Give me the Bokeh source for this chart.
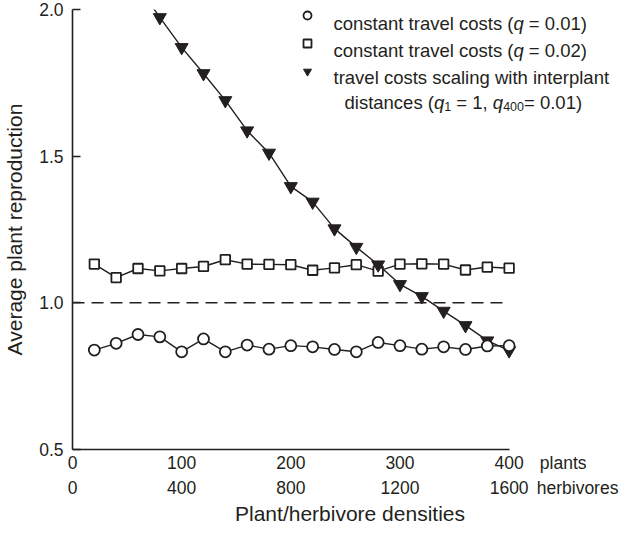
from bokeh.plotting import figure
from bokeh.models import (ColumnDataSource, Range1d, FixedTicker, LinearAxis, Legend,
                          LegendItem, Label, PrintfTickFormatter)
from bokeh.embed import file_html
from bokeh.resources import INLINE

# ---------------- data ----------------
x_plants = [20, 40, 60, 80, 100, 120, 140, 160, 180, 200,
            220, 240, 260, 280, 300, 320, 340, 360, 380, 400]
repro_q001 = [0.839, 0.862, 0.892, 0.884, 0.833, 0.877, 0.833, 0.856, 0.842, 0.854,
              0.850, 0.841, 0.833, 0.865, 0.854, 0.842, 0.850, 0.841, 0.853, 0.854]
repro_q002 = [1.132, 1.086, 1.117, 1.109, 1.117, 1.124, 1.147, 1.132, 1.131, 1.130,
              1.111, 1.119, 1.130, 1.108, 1.132, 1.133, 1.132, 1.112, 1.122, 1.118]
x_scaling = [60, 80, 100, 120, 140, 160, 180, 200, 220, 240,
             260, 280, 300, 320, 340, 360, 380, 400]
repro_scaling = [2.08, 1.973, 1.871, 1.782, 1.690, 1.587, 1.511, 1.397, 1.344, 1.253,
                 1.190, 1.130, 1.063, 1.022, 0.972, 0.923, 0.871, 0.837]
plant_ticks = [0, 100, 200, 300, 400]
herbivore_ticks = [0, 400, 800, 1200, 1600]
y_ticks = [0.5, 1.0, 1.5, 2.0]
reference_level = 1.0

FONT = "Liberation Sans, Arial, Helvetica, sans-serif"
TICK_FS = 17.5
LEG_FS = 18.5
TITLE_FS = 21
INK = "#231f20"

# Liberation Sans advance widths (per 1000 em) for laying out mixed-style text runs
W = {' ': 278, '(': 333, ')': 333, '=': 584, '.': 278, ',': 278,
     'a': 556, 'b': 556, 'c': 500, 'd': 556, 'e': 556, 'g': 556, 'h': 556, 'i': 222,
     'l': 222, 'n': 556, 'o': 556, 'p': 556, 'q': 556, 'r': 333, 's': 500, 't': 278,
     'v': 500, 'w': 722}
for d in "0123456789":
    W[d] = 556


def text_width(text, size):
    return sum(W.get(c, 556) for c in text) / 1000 * size


# ---------------- layout (page px; the page has an 8px margin) ----------------
MARGIN = 8
FIG_W, FIG_H = 627, 527
FRAME_LEFT, FRAME_TOP, FRAME_BOTTOM = 69, 9, 450          # figure px
X_END_PAGE = 516                                          # page px of the last density tick
px_per_unit = (X_END_PAGE - MARGIN - FRAME_LEFT) / plant_ticks[-1]
x_end = (FIG_W - FRAME_LEFT) / px_per_unit


def page_to_data_x(px):
    return round((px - MARGIN - FRAME_LEFT) / px_per_unit, 1)


plants_pos = page_to_data_x(547 + text_width("plants", TICK_FS) / 2)
herbivores_pos = page_to_data_x(544 + text_width("herbivores", TICK_FS) / 2)

p = figure(width=FIG_W, height=FIG_H, output_backend="svg", toolbar_location=None,
           x_range=Range1d(0, x_end), y_range=Range1d(y_ticks[0], y_ticks[-1]),
           min_border_left=FRAME_LEFT, min_border_right=0, min_border_top=FRAME_TOP,
           min_border_bottom=FIG_H - FRAME_BOTTOM)
p.xgrid.grid_line_color = None
p.ygrid.grid_line_color = None
p.outline_line_color = None

ya = p.yaxis[0]
spine = p.xaxis[0]
row_plants = LinearAxis(ticker=FixedTicker(ticks=plant_ticks + [plants_pos]),
                        major_label_overrides={plants_pos: "plants"})
row_herb_labels = {pt: str(h) for pt, h in zip(plant_ticks, herbivore_ticks)}
row_herb_labels[herbivores_pos] = "herbivores"
row_herb = LinearAxis(ticker=FixedTicker(ticks=plant_ticks + [herbivores_pos]),
                      major_label_overrides=row_herb_labels)
title_axis = LinearAxis(ticker=FixedTicker(ticks=[]))
for ax in (row_plants, row_herb, title_axis):
    p.add_layout(ax, "below")

for ax in (ya, spine, row_plants, row_herb, title_axis):
    ax.major_label_text_font = FONT
    ax.major_label_text_font_size = f"{TICK_FS}px"
    ax.major_label_text_color = INK
    ax.axis_label_text_font = FONT
    ax.axis_label_text_font_size = f"{TITLE_FS}px"
    ax.axis_label_text_font_style = "normal"
    ax.axis_label_text_color = INK
    ax.minor_tick_line_color = None
    ax.axis_line_color = INK
    ax.axis_line_width = 1.6
    ax.major_tick_line_color = INK
    ax.major_tick_line_width = 1.6

ya.ticker = FixedTicker(ticks=y_ticks)
ya.formatter = PrintfTickFormatter(format="%.1f")
ya.major_tick_in = 8
ya.major_tick_out = 0
ya.major_label_standoff = 9
ya.axis_label = "Average plant reproduction"
ya.axis_label_standoff = 10

spine.ticker = FixedTicker(ticks=[])
spine.major_tick_in = 0
spine.major_tick_out = 0
spine.major_label_standoff = 0
spine.bounds = (plant_ticks[0], plant_ticks[-1])

for ax, stand in ((row_plants, 3), (row_herb, 2)):
    ax.axis_line_color = None
    ax.major_tick_in = 0
    ax.major_tick_out = 0
    ax.major_tick_line_color = None
    ax.major_label_standoff = stand

title_axis.axis_line_color = None
title_axis.major_tick_in = 0
title_axis.major_tick_out = 0
title_axis.major_label_standoff = 0
title_axis.bounds = (plant_ticks[0], plant_ticks[-1])
title_axis.axis_label = "Plant/herbivore densities"
title_axis.axis_label_standoff = 1

# reference line at 1.0 across the plotted density range
p.line(x=[plant_ticks[0], x_plants[-1]], y=[reference_level, reference_level],
       line_color=INK, line_width=1.5, line_dash="12 7")

src_b = ColumnDataSource(dict(x=x_plants, y=repro_q002))
src_c = ColumnDataSource(dict(x=x_scaling, y=repro_scaling))
src_a = ColumnDataSource(dict(x=x_plants, y=repro_q001))

p.line('x', 'y', source=src_b, line_color=INK, line_width=1.4)
r_b = p.scatter('x', 'y', source=src_b, marker="square", size=9.5,
                fill_color="white", line_color=INK, line_width=1.8)
p.line('x', 'y', source=src_c, line_color=INK, line_width=1.4)
r_c = p.scatter('x', 'y', source=src_c, marker="inverted_triangle", size=13,
                fill_color=INK, line_color=INK, line_width=1.0)
p.line('x', 'y', source=src_a, line_color=INK, line_width=1.4)
r_a = p.scatter('x', 'y', source=src_a, marker="circle", size=11,
                fill_color="white", line_color=INK, line_width=1.8)

# legend symbols (text is laid out separately to allow italic q and subscripts)
legend = Legend(items=[LegendItem(label=" ", renderers=[r_a]),
                       LegendItem(label=" ", renderers=[r_b]),
                       LegendItem(label=" ", renderers=[r_c])],
                location=(302 - MARGIN - FRAME_LEFT, FRAME_BOTTOM - (90 - MARGIN)),
                glyph_width=20, glyph_height=20, label_height=20, label_width=1,
                label_standoff=0, spacing=8, padding=0, margin=0,
                border_line_color=None, background_fill_alpha=0,
                label_text_font_size="1px")
p.add_layout(legend)


def text_run(pieces, x_page, baseline_page):
    """pieces: (text, style, size, drop); positions in page px, drop > 0 moves down."""
    x = x_page
    for text, style, size, drop in pieces:
        lead = len(text) - len(text.lstrip(" "))
        p.add_layout(Label(x=x + text_width(" " * lead, size) - MARGIN - FRAME_LEFT,
                           y=FRAME_BOTTOM - (baseline_page - MARGIN + drop),
                           x_units="screen", y_units="screen", text=text.strip(" "),
                           text_font=FONT, text_font_size=f"{size}px",
                           text_font_style=style, text_color=INK,
                           text_baseline="alphabetic", text_align="left"))
        x += text_width(text, size)


SUB = 12.5
text_run([("constant travel costs (", "normal", LEG_FS, 0), ("q", "italic", LEG_FS, 0),
          (" = 0.01)", "normal", LEG_FS, 0)], 338, 31.5)
text_run([("constant travel costs (", "normal", LEG_FS, 0), ("q", "italic", LEG_FS, 0),
          (" = 0.02)", "normal", LEG_FS, 0)], 338, 58.5)
text_run([("travel costs scaling with interplant", "normal", LEG_FS, 0)], 338, 85.5)
text_run([("distances (", "normal", LEG_FS, 0), ("q", "italic", LEG_FS, 0),
          ("1", "normal", SUB, 4), (" = 1, ", "normal", LEG_FS, 0),
          ("q", "italic", LEG_FS, 0), ("400", "normal", SUB, 4),
          ("= 0.01)", "normal", LEG_FS, 0)], 349, 110.5)

open("out.html", "w").write(file_html(p, INLINE))
